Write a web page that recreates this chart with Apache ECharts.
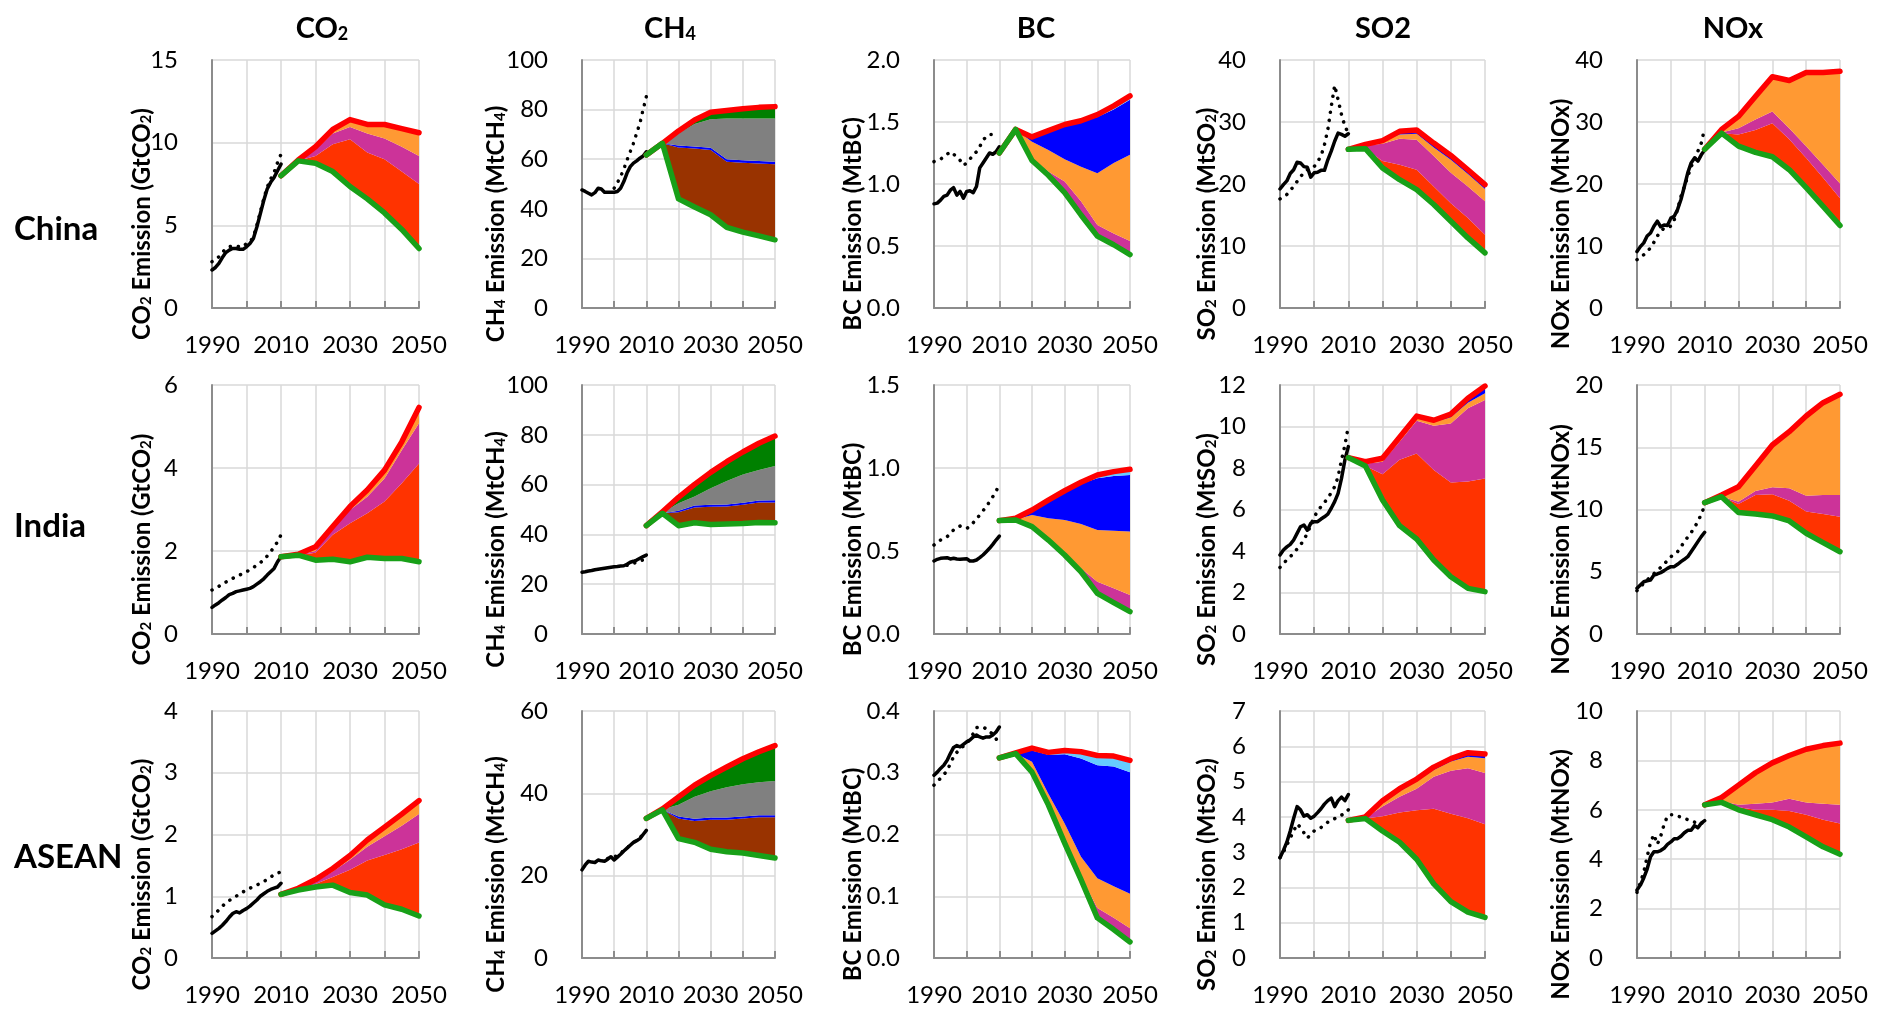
<!DOCTYPE html>
<html><head><meta charset="utf-8">
<script src="https://cdn.jsdelivr.net/npm/echarts@6.0.0/dist/echarts.min.js"></script>
<style>html,body{margin:0;padding:0;background:#fff}#c{width:1887px;height:1017px}</style>
</head><body><div id="c"></div>
<script>
// ---------------- DATA ----------------
const YEARS_HIST = [1990,1991,1992,1993,1994,1995,1996,1997,1998,1999,2000,2001,2002,2003,2004,2005,2006,2007,2008,2009,2010];
const YEARS_PROJ = [2010,2015,2020,2025,2030,2035,2040,2045,2050];
const X_TICK_LABELS = [1990, 2010, 2030, 2050];
const ROW_LABELS = ['China', 'India', 'ASEAN'];
const COL_TITLES = ['{b|CO}{s|2}', '{b|CH}{s|4}', '{b|BC}', '{b|SO2}', '{b|NOx}'];
const Y_NAMES = ['{b|CO}{s|2}{b| Emission (GtCO}{s|2}{b|)}', '{b|CH}{s|4}{b| Emission (MtCH}{s|4}{b|)}', '{b|BC Emission (MtBC)}', '{b|SO}{s|2}{b| Emission (MtSO}{s|2}{b|)}', '{b|NOx Emission (MtNOx)}'];

// China
const cnCO2_hist = [2.3,2.45,2.7,3.05,3.35,3.5,3.6,3.6,3.55,3.55,3.7,3.9,4.2,4.9,5.7,6.5,7.2,7.6,7.9,8.3,8.7];
const cnCO2_alt  = [2.8,2.9,3.1,3.35,3.6,3.7,3.75,3.75,3.7,3.7,3.9,4.0,4.3,5.0,5.8,6.6,7.3,7.8,8.2,8.8,9.3];
const cnCO2_low  = [8.0,8.9,8.75,8.25,7.35,6.6,5.75,4.75,3.6];
const cnCO2_l1   = [8.0,8.9,9.2,9.9,10.2,9.4,9.0,8.25,7.5];
const cnCO2_l2   = [8.0,8.92,9.6,10.55,10.95,10.55,10.25,9.75,9.2];
const cnCO2_base = [8.0,8.95,9.75,10.8,11.4,11.1,11.1,10.85,10.6];

const cnCH4_hist = [47.6,47,46.3,45.6,46.5,48.3,48,46.7,46.7,46.7,46.7,47,48.3,51,54.4,57,58.4,59.3,60.4,61.3,63];
const cnCH4_alt  = [null,null,null,null,null,null,null,null,null,null,48.3,50.5,53,56,59.7,63,66.4,70.5,74.5,80,85.2];
const cnCH4_low  = [61.7,66.4,44.0,40.7,37.6,32.5,30.6,29.1,27.5];
const cnCH4_l1   = [61.7,66.4,64.7,64.3,63.7,59.0,58.6,58.3,58.0];
const cnCH4_l2   = [61.7,66.4,65.5,65.1,64.6,60.0,59.6,59.3,59.0];
const cnCH4_l3   = [61.7,66.4,70.5,74.2,76.1,76.4,76.4,76.4,76.4];
const cnCH4_base = [61.7,66.4,71.4,75.8,78.9,79.6,80.3,80.9,81.2];

const cnBC_hist = [0.84,0.846,0.87,0.9,0.91,0.95,0.97,0.91,0.94,0.886,0.94,0.945,0.93,0.98,1.13,1.17,1.21,1.25,1.24,1.26,1.30];
const cnBC_alt  = [1.18,1.19,1.2,1.22,1.24,1.26,1.24,1.22,1.19,1.15,1.17,1.2,1.235,1.26,1.30,1.355,1.38,1.40,1.40,null,null];
const cnBC_low  = [1.25,1.44,1.19,1.07,0.93,0.75,0.58,0.51,0.43];
const cnBC_l1   = [1.25,1.44,1.21,1.10,1.02,0.86,0.67,0.60,0.54];
const cnBC_l2   = [1.25,1.44,1.34,1.275,1.20,1.14,1.087,1.17,1.235];
const cnBC_l3   = [1.25,1.44,1.37,1.42,1.47,1.50,1.54,1.60,1.68];
const cnBC_base = [1.25,1.44,1.38,1.43,1.48,1.51,1.56,1.63,1.71];

const cnSO2_hist = [19.2,19.9,20.5,21.7,22.3,23.5,23.4,22.8,22.7,21.1,21.8,21.9,22.2,22.2,23.9,25.3,26.9,28.2,28.0,27.7,28.1];
const cnSO2_alt  = [17.6,18.0,18.3,19.0,19.6,20.4,21.2,21.8,22.3,22.6,22.8,23.6,24.5,26.3,28.8,32.5,35.9,33.6,31.2,29.3,28.2];
const cnSO2_low  = [25.6,25.7,22.6,20.7,19.1,16.7,14.0,11.3,8.9];
const cnSO2_l1   = [25.6,25.7,23.7,23.1,22.3,19.6,16.9,14.5,11.8];
const cnSO2_l2   = [25.6,26.2,26.5,27.3,27.15,24.5,21.8,19.6,17.2];
const cnSO2_l3   = [25.6,26.3,26.8,28.0,28.1,25.9,23.9,21.6,19.2];
const cnSO2_base = [25.6,26.4,27.0,28.5,28.7,26.6,24.6,22.3,19.9];

const cnNOx_hist = [9.1,9.9,10.5,11.6,12.1,13.2,14.0,13.1,13.4,13.3,14.5,14.8,15.9,17.5,19.6,21.8,23.4,24.2,23.7,24.7,25.5];
const cnNOx_alt  = [7.8,8.2,8.6,9.1,9.7,10.6,11.6,12.3,12.9,13.0,13.2,14.2,15.9,18.0,19.6,21.2,22.8,23.9,25.3,26.6,29.0];
const cnNOx_low  = [25.6,28.2,26.1,25.1,24.4,22.3,19.4,16.4,13.3];
const cnNOx_l1   = [25.6,28.2,28.0,28.7,29.8,27.2,24.2,21.0,17.7];
const cnNOx_l2   = [25.6,28.3,29.0,30.4,31.7,29.0,26.1,23.1,20.1];
const cnNOx_base = [25.6,28.8,30.9,34.1,37.3,36.7,38.0,38.0,38.2];

// India
const inCO2_hist = [0.64,0.70,0.755,0.82,0.88,0.95,0.98,1.02,1.04,1.06,1.08,1.10,1.14,1.20,1.26,1.33,1.42,1.50,1.58,1.74,1.86];
const inCO2_alt  = [1.06,1.10,1.15,1.20,1.25,1.30,1.34,1.38,1.42,1.46,1.50,1.55,1.60,1.66,1.72,1.78,1.88,1.98,2.10,2.22,2.39];
const inCO2_low  = [1.86,1.9,1.78,1.8,1.74,1.85,1.82,1.82,1.74];
const inCO2_l1   = [1.86,1.9,1.96,2.39,2.67,2.91,3.19,3.63,4.11];
const inCO2_l2   = [1.86,1.91,2.0,2.55,2.99,3.31,3.75,4.43,5.08];
const inCO2_base = [1.86,1.92,2.1,2.59,3.07,3.47,3.95,4.63,5.46];

const inCH4_hist = [24.8,25.0,25.3,25.5,25.8,26.0,26.2,26.4,26.6,26.8,27.0,27.1,27.3,27.4,28.0,28.8,29.2,29.7,30.4,31.1,31.7];
const inCH4_alt  = [null,null,null,null,null,null,null,null,null,null,null,null,null,null,27.6,28.0,28.5,28.6,29.3,29.8,30.6];
const inCH4_low  = [43.5,48.5,43.5,44.7,44.0,44.2,44.4,44.8,44.7];
const inCH4_l1   = [43.5,48.5,48.9,50.8,51.1,51.2,51.9,52.8,52.8];
const inCH4_l2   = [43.5,48.5,49.5,51.6,51.9,52.0,52.7,53.6,53.7];
const inCH4_l3   = [43.5,48.7,52.5,55.2,58.5,61.4,64.1,65.9,67.5];
const inCH4_base = [43.5,49.1,54.9,60.1,64.9,69.2,73.1,76.6,79.5];

const inBC_hist = [0.44,0.45,0.456,0.458,0.46,0.452,0.456,0.452,0.45,0.452,0.454,0.44,0.44,0.446,0.46,0.476,0.496,0.516,0.54,0.566,0.59];
const inBC_alt  = [0.536,0.55,0.566,0.576,0.586,0.605,0.627,0.64,0.65,0.643,0.636,0.647,0.67,0.693,0.717,0.742,0.767,0.797,0.827,0.857,0.91];
const inBC_low  = [0.683,0.687,0.647,0.566,0.476,0.375,0.245,0.189,0.135];
const inBC_l1   = [0.683,0.687,0.65,0.572,0.485,0.396,0.315,0.275,0.235];
const inBC_l2   = [0.683,0.69,0.717,0.697,0.687,0.663,0.627,0.622,0.617];
const inBC_l3   = [0.683,0.695,0.745,0.80,0.855,0.905,0.938,0.952,0.958];
const inBC_base = [0.683,0.697,0.747,0.807,0.863,0.914,0.958,0.978,0.992];

const inSO2_hist = [3.81,4.05,4.2,4.32,4.53,4.85,5.17,5.25,5.0,5.33,5.41,5.41,5.54,5.65,5.78,6.06,6.38,6.78,7.5,8.39,9.03];
const inSO2_alt  = [3.21,3.4,3.57,3.73,3.89,4.1,4.29,4.55,4.85,5.25,5.65,5.9,6.14,6.34,6.54,6.82,7.1,7.58,8.39,9.1,10.02];
const inSO2_low  = [8.5,8.1,6.46,5.22,4.58,3.57,2.76,2.2,2.04];
const inSO2_l1   = [8.5,8.1,7.7,8.4,8.7,7.9,7.3,7.35,7.5];
const inSO2_l2   = [8.5,8.2,8.3,9.27,10.28,10.04,10.15,10.88,11.28];
const inSO2_l3   = [8.5,8.25,8.4,9.4,10.4,10.2,10.45,11.15,11.6];
const inSO2_base = [8.5,8.3,8.47,9.48,10.5,10.3,10.6,11.36,11.95];

const inNOx_hist = [3.67,3.94,4.2,4.28,4.34,4.74,4.82,4.93,5.09,5.27,5.41,5.41,5.6,5.81,6.0,6.21,6.61,7.01,7.42,7.82,8.17];
const inNOx_alt  = [3.48,3.78,4.07,4.34,4.6,4.85,5.09,5.35,5.62,5.9,6.21,6.4,6.61,7.0,7.42,7.78,8.14,8.58,9.02,9.64,10.3];
const inNOx_low  = [10.55,11.03,9.75,9.64,9.48,9.08,8.09,7.34,6.61];
const inNOx_l1   = [10.55,11.03,10.44,11.16,11.22,10.71,9.83,9.64,9.42];
const inNOx_l2   = [10.55,11.05,10.63,11.49,11.78,11.7,11.11,11.16,11.16];
const inNOx_base = [10.55,11.16,11.83,13.49,15.18,16.25,17.51,18.58,19.25];

// ASEAN
const asCO2_hist = [0.40,0.44,0.48,0.53,0.59,0.66,0.72,0.75,0.73,0.77,0.80,0.84,0.89,0.94,1.0,1.04,1.08,1.11,1.13,1.15,1.21];
const asCO2_alt  = [0.67,0.72,0.78,0.84,0.89,0.93,0.97,1.0,1.04,1.07,1.10,1.13,1.16,1.18,1.21,1.24,1.27,1.31,1.35,1.37,1.40];
const asCO2_low  = [1.03,1.10,1.15,1.18,1.06,1.02,0.86,0.79,0.68];
const asCO2_l1   = [1.03,1.10,1.2,1.31,1.43,1.58,1.67,1.76,1.87];
const asCO2_l2   = [1.03,1.11,1.23,1.40,1.59,1.80,1.97,2.14,2.33];
const asCO2_base = [1.03,1.13,1.27,1.45,1.66,1.91,2.12,2.33,2.55];

const asCH4_hist = [21.4,22.6,23.5,23.3,23.2,23.8,23.6,23.5,24.0,24.6,23.8,24.5,25.2,26.0,26.7,27.4,28.1,28.5,29.0,30.0,31.0];
const asCH4_alt  = [null,null,null,null,null,null,null,null,24.2,24.3,24.5,25.0,25.5,26.1,26.8,27.4,28.0,28.6,29.3,29.9,30.5];
const asCH4_low  = [33.9,36.0,29.0,28.1,26.4,25.8,25.5,24.9,24.3];
const asCH4_l1   = [33.9,36.0,33.9,33.3,33.6,33.6,33.9,34.2,34.2];
const asCH4_l2   = [33.9,36.0,34.4,33.8,34.1,34.1,34.4,34.7,34.7];
const asCH4_l3   = [33.9,36.1,37.2,39.2,40.5,41.5,42.2,42.7,43.0];
const asCH4_base = [33.9,36.2,39.1,42.0,44.3,46.4,48.4,50.1,51.6];

const asBC_hist = [0.296,0.301,0.307,0.312,0.320,0.331,0.341,0.344,0.342,0.346,0.350,0.353,0.358,0.361,0.358,0.356,0.358,0.358,0.361,0.366,0.374];
const asBC_alt  = [0.28,0.286,0.291,0.297,0.303,0.315,0.326,0.333,0.339,0.343,0.347,0.355,0.363,0.373,0.374,0.374,0.371,0.366,0.363,0.355,0.347];
const asBC_low  = [0.324,0.331,0.301,0.248,0.186,0.127,0.065,0.046,0.026];
const asBC_l1   = [0.324,0.331,0.302,0.25,0.19,0.132,0.081,0.065,0.048];
const asBC_l2   = [0.324,0.331,0.318,0.266,0.218,0.164,0.129,0.116,0.104];
const asBC_l3   = [0.324,0.332,0.336,0.329,0.330,0.323,0.312,0.310,0.301];
const asBC_base = [0.324,0.332,0.340,0.333,0.336,0.334,0.328,0.327,0.320];

const asSO2_hist = [2.84,3.05,3.28,3.6,3.96,4.29,4.2,4.02,4.06,3.96,4.02,4.12,4.23,4.36,4.46,4.53,4.29,4.46,4.56,4.46,4.63];
const asSO2_alt  = [2.85,3.0,3.2,3.4,3.6,3.8,3.7,3.55,3.4,3.5,3.6,3.65,3.7,3.78,3.85,3.9,3.95,4.0,4.05,4.1,4.2];
const asSO2_low  = [3.9,3.95,3.6,3.28,2.8,2.1,1.6,1.3,1.15];
const asSO2_l1   = [3.9,3.95,4.02,4.12,4.19,4.23,4.09,3.96,3.79];
const asSO2_l2   = [3.9,3.97,4.29,4.57,4.8,5.14,5.31,5.38,5.24];
const asSO2_l3   = [3.9,3.98,4.38,4.72,5.0,5.33,5.57,5.7,5.66];
const asSO2_base = [3.9,4.0,4.46,4.8,5.07,5.41,5.65,5.82,5.78];

const asNOx_hist = [2.75,2.95,3.24,3.6,4.1,4.3,4.3,4.35,4.44,4.6,4.7,4.83,4.83,4.93,5.07,5.17,5.17,5.36,5.27,5.46,5.56];
const asNOx_alt  = [2.66,3.05,3.48,4.1,4.68,5.0,4.6,4.93,5.4,5.75,5.8,5.8,5.75,5.7,5.65,5.6,5.56,5.5,5.41,5.45,5.5];
const asNOx_low  = [6.2,6.3,6.0,5.8,5.6,5.3,4.9,4.5,4.2];
const asNOx_l1   = [6.2,6.3,6.1,6.0,6.0,5.95,5.8,5.6,5.45];
const asNOx_l2   = [6.2,6.35,6.2,6.25,6.3,6.45,6.3,6.25,6.2];
const asNOx_base = [6.2,6.5,7.0,7.5,7.9,8.2,8.45,8.6,8.7];

// y-axis ranges per panel [max, interval, decimals]
const Y_RANGES = [
  [15,5,0],[100,20,0],[2.0,0.5,1],[40,10,0],[40,10,0],
  [6,2,0],[100,20,0],[1.5,0.5,1],[12,2,0],[20,5,0],
  [4,1,0],[60,20,0],[0.4,0.1,1],[7,1,0],[10,2,0]
];

const PANELS = [
  {hist:cnCO2_hist, alt:cnCO2_alt, low:cnCO2_low, lv:[cnCO2_l1,cnCO2_l2], base:cnCO2_base},
  {hist:cnCH4_hist, alt:cnCH4_alt, low:cnCH4_low, lv:[cnCH4_l1,cnCH4_l2,cnCH4_l3], base:cnCH4_base},
  {hist:cnBC_hist,  alt:cnBC_alt,  low:cnBC_low,  lv:[cnBC_l1,cnBC_l2,cnBC_l3], base:cnBC_base},
  {hist:cnSO2_hist, alt:cnSO2_alt, low:cnSO2_low, lv:[cnSO2_l1,cnSO2_l2,cnSO2_l3], base:cnSO2_base},
  {hist:cnNOx_hist, alt:cnNOx_alt, low:cnNOx_low, lv:[cnNOx_l1,cnNOx_l2], base:cnNOx_base},
  {hist:inCO2_hist, alt:inCO2_alt, low:inCO2_low, lv:[inCO2_l1,inCO2_l2], base:inCO2_base},
  {hist:inCH4_hist, alt:inCH4_alt, low:inCH4_low, lv:[inCH4_l1,inCH4_l2,inCH4_l3], base:inCH4_base},
  {hist:inBC_hist,  alt:inBC_alt,  low:inBC_low,  lv:[inBC_l1,inBC_l2,inBC_l3], base:inBC_base},
  {hist:inSO2_hist, alt:inSO2_alt, low:inSO2_low, lv:[inSO2_l1,inSO2_l2,inSO2_l3], base:inSO2_base},
  {hist:inNOx_hist, alt:inNOx_alt, low:inNOx_low, lv:[inNOx_l1,inNOx_l2], base:inNOx_base},
  {hist:asCO2_hist, alt:asCO2_alt, low:asCO2_low, lv:[asCO2_l1,asCO2_l2], base:asCO2_base},
  {hist:asCH4_hist, alt:asCH4_alt, low:asCH4_low, lv:[asCH4_l1,asCH4_l2,asCH4_l3], base:asCH4_base},
  {hist:asBC_hist,  alt:asBC_alt,  low:asBC_low,  lv:[asBC_l1,asBC_l2,asBC_l3], base:asBC_base},
  {hist:asSO2_hist, alt:asSO2_alt, low:asSO2_low, lv:[asSO2_l1,asSO2_l2,asSO2_l3], base:asSO2_base},
  {hist:asNOx_hist, alt:asNOx_alt, low:asNOx_low, lv:[asNOx_l1,asNOx_l2], base:asNOx_base}
];

// ---------------- STYLE / LAYOUT ----------------
const FONT = "Lato, 'Liberation Sans', sans-serif";
const COL_LEFT = [212, 582, 934, 1280, 1637];
const COL_WIDTH = [207, 193, 196, 205, 203];
const ROW_TOP = [60, 385, 711];
const ROW_HEIGHT = [248, 249, 247];
const YNAME_X = [140, 494, 851, 1205, 1559];
const YNAME_DY = 40;
const COLTITLE_X = [322, 670, 1036, 1383, 1733];
const ROWLABEL_TOP = [209, 506, 837];
const AXIS_COLOR = '#8c8c8c';
const GRID_COLOR = '#d9d9d9';
const RED = '#ff0000';
const GREEN = '#18a018';
const C = {ro:'#ff3300', mag:'#cc3399', or:'#ff9933', blue:'#0000ff', lb:'#66ccff', gray:'#808080', brown:'#993300', dg:'#008000'};
const BAND_COLORS = [
  [C.ro, C.mag, C.or],
  [C.brown, C.blue, C.gray, C.dg],
  [C.mag, C.or, C.blue, C.lb],
  [C.ro, C.mag, C.or, C.blue],
  [C.ro, C.mag, C.or]
];

// ---------------- BUILD ----------------
const pairs = (years, vals) => years.map((y, k) => [y, vals[k] == null ? null : vals[k]]);
// stacked series use [value, year] order so that the stacked dimension is the y value
const stackPairs = (years, vals) => years.map((y, k) => [vals[k], y]);
const grids = [], xAxes = [], yAxes = [], series = [], graphics = [];

PANELS.forEach((p, i) => {
  const r = Math.floor(i / 5), c = i % 5;
  const [ymax, yint, dec] = Y_RANGES[i];
  grids.push({left: COL_LEFT[c], top: ROW_TOP[r], width: COL_WIDTH[c], height: ROW_HEIGHT[r], containLabel: false});
  xAxes.push({
    type: 'value', gridIndex: i, min: 1990, max: 2050, interval: 10,
    axisLine: {show: true, onZero: false, lineStyle: {color: AXIS_COLOR, width: 2}},
    axisTick: {show: true, inside: true, length: 7, lineStyle: {color: AXIS_COLOR, width: 2}},
    splitLine: {show: true, lineStyle: {color: GRID_COLOR, width: 1.5}},
    axisLabel: {margin: 25, fontSize: 24, fontFamily: FONT, color: '#000',
      formatter: v => X_TICK_LABELS.indexOf(Math.round(v)) >= 0 ? String(Math.round(v)) : ''}
  });
  yAxes.push({
    type: 'value', gridIndex: i, min: 0, max: ymax, interval: yint,
    axisLine: {show: true, lineStyle: {color: AXIS_COLOR, width: 2}},
    axisTick: {show: false},
    splitLine: {show: true, lineStyle: {color: GRID_COLOR, width: 1.5}},
    axisLabel: {margin: 34, fontSize: 24, fontFamily: FONT, color: '#000',
      formatter: v => dec ? v.toFixed(dec) : String(Math.round(v))}
  });
  const st = 'stk' + i;
  // invisible base of the stack: the lower (green) path
  series.push({type: 'line', xAxisIndex: i, yAxisIndex: i, stack: st, stackStrategy: 'all',
    encode: {x: 1, y: 0}, data: stackPairs(YEARS_PROJ, p.low),
    symbol: 'none', lineStyle: {width: 0, opacity: 0}, silent: true, z: 2});
  const bounds = [p.low, ...p.lv, p.base];
  for (let k = 1; k < bounds.length; k++) {
    const diff = bounds[k].map((v, j) => Math.max(0, +(v - bounds[k - 1][j]).toFixed(5)));
    series.push({type: 'line', xAxisIndex: i, yAxisIndex: i, stack: st, stackStrategy: 'all',
      encode: {x: 1, y: 0}, data: stackPairs(YEARS_PROJ, diff),
      symbol: 'none', lineStyle: {width: 0, opacity: 0},
      areaStyle: {color: BAND_COLORS[c][k - 1], opacity: 1}, silent: true, z: 2});
  }
  series.push({type: 'line', xAxisIndex: i, yAxisIndex: i, data: pairs(YEARS_PROJ, p.base), symbol: 'none',
    lineStyle: {color: RED, width: 5.5, cap: 'round', join: 'round'}, z: 5, silent: true});
  series.push({type: 'line', xAxisIndex: i, yAxisIndex: i, data: pairs(YEARS_PROJ, p.low), symbol: 'none',
    lineStyle: {color: GREEN, width: 5.5, cap: 'round', join: 'round'}, z: 6, silent: true});
  series.push({type: 'line', xAxisIndex: i, yAxisIndex: i, data: pairs(YEARS_HIST, p.alt), symbol: 'none',
    lineStyle: {color: '#000', width: 3.5, type: [0.1, 8], cap: 'round'}, z: 4, silent: true});
  series.push({type: 'line', xAxisIndex: i, yAxisIndex: i, data: pairs(YEARS_HIST, p.hist), symbol: 'none',
    lineStyle: {color: '#000', width: 3.5, cap: 'round', join: 'round'}, z: 4, silent: true});

  graphics.push({
    type: 'text', x: YNAME_X[c], y: ROW_TOP[r] + ROW_HEIGHT[r] / 2 + YNAME_DY, rotation: Math.PI / 2, z: 10,
    style: {
      text: Y_NAMES[c], align: 'center', verticalAlign: 'middle', fill: '#000',
      fontFamily: FONT, fontWeight: 'bold', fontSize: 24,
      rich: {
        b: {fontFamily: FONT, fontWeight: 'bold', fontSize: 24, fill: '#000', lineHeight: 28, verticalAlign: 'bottom'},
        s: {fontFamily: FONT, fontWeight: 'bold', fontSize: 15, fill: '#000', lineHeight: 15, verticalAlign: 'bottom'}
      }
    }
  });
});

const titleRich = {
  b: {fontFamily: FONT, fontWeight: 'bold', fontSize: 29, color: '#000', lineHeight: 34, verticalAlign: 'bottom'},
  s: {fontFamily: FONT, fontWeight: 'bold', fontSize: 18, color: '#000', lineHeight: 12, verticalAlign: 'bottom'}
};
const titles = [
  ...COL_TITLES.map((t, c) => ({text: t, left: COLTITLE_X[c], top: 9, textAlign: 'center', padding: 0, textStyle: {rich: titleRich}})),
  ...ROW_LABELS.map((t, r) => ({text: t, left: 14, top: ROWLABEL_TOP[r], padding: 0,
    textStyle: {fontFamily: FONT, fontWeight: 'bold', fontSize: 33, color: '#000', lineHeight: 40}}))
];

const chart = echarts.init(document.getElementById('c'), null, {renderer: 'canvas'});
chart.setOption({
  backgroundColor: '#fff',
  animation: false,
  title: titles,
  grid: grids,
  xAxis: xAxes,
  yAxis: yAxes,
  series: series,
  graphic: graphics
});
</script></body></html>
